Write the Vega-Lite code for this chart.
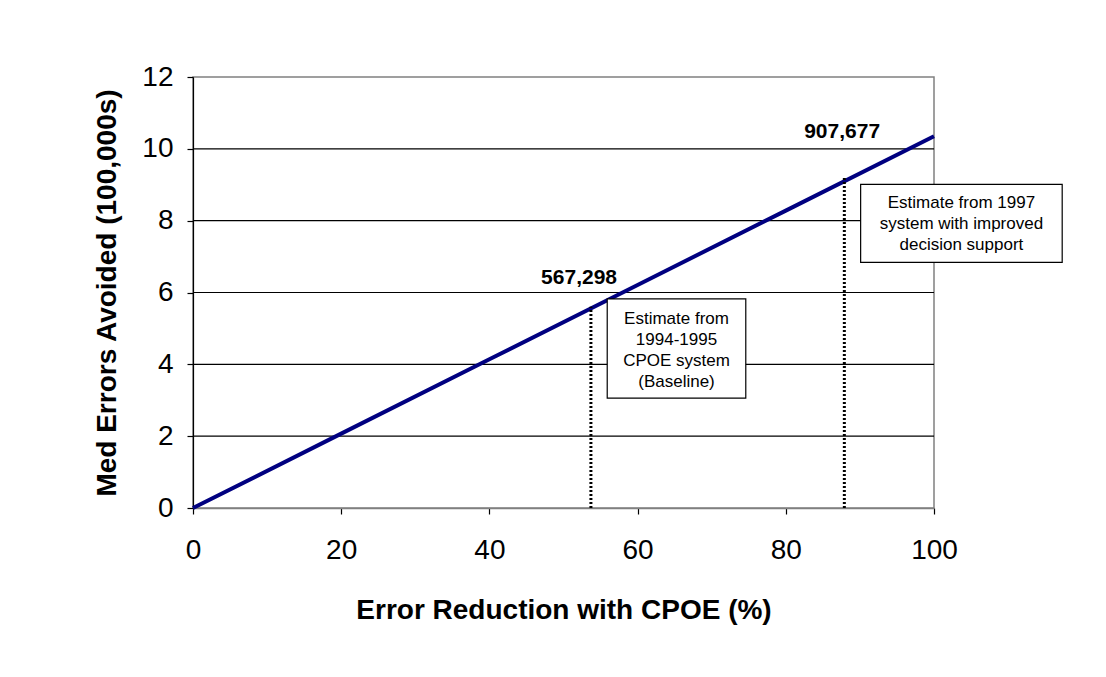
{
  "$schema": "https://vega.github.io/schema/vega-lite/v6.json",
  "width": 741,
  "height": 431,
  "autosize": {"type": "none"},
  "padding": {"left": 193, "top": 77, "right": 172, "bottom": 169},
  "background": "white",
  "config": {
    "font": "Liberation Sans",
    "view": {"stroke": "#808080", "strokeWidth": 1.5}
  },
  "datasets": {
    "curve": [
      {"reduction": 0, "errors": 0},
      {"reduction": 20, "errors": 2.07},
      {"reduction": 40, "errors": 4.14},
      {"reduction": 60, "errors": 6.21},
      {"reduction": 80, "errors": 8.28},
      {"reduction": 100, "errors": 10.35}
    ],
    "gridlines": [
      {"level": 2}, {"level": 4}, {"level": 6}, {"level": 8}, {"level": 10}
    ],
    "estimates": [
      {"reduction": 53.7, "base": 0, "errors": 5.6, "label": "567,298", "labelX": 52.1, "labelY": 6.4},
      {"reduction": 87.9, "base": 0, "errors": 9.2, "label": "907,677", "labelX": 87.6, "labelY": 10.46}
    ],
    "notes": [
      {"left": 55.9, "right": 74.6, "top": 5.82, "bottom": 3.06, "cx": 65.25, "cy": 5.27, "lines": ["Estimate from", "1994-1995", "CPOE system", "(Baseline)"]},
      {"left": 90.1, "right": 117.3, "top": 9.01, "bottom": 6.84, "cx": 103.7, "cy": 8.49, "lines": ["Estimate from 1997", "system with improved", "decision support"]}
    ]
  },
  "layer": [
    {
      "data": {"name": "gridlines"},
      "mark": {"type": "rule", "color": "black", "strokeWidth": 1.2},
      "encoding": {
        "y": {"field": "level", "type": "quantitative"}
      }
    },
    {
      "data": {"name": "curve"},
      "mark": {"type": "line", "color": "#000080", "strokeWidth": 4},
      "encoding": {
        "x": {
          "field": "reduction", "type": "quantitative",
          "scale": {"domain": [0, 100], "nice": false},
          "axis": {
            "values": [0, 20, 40, 60, 80, 100],
            "title": "Error Reduction with CPOE (%)",
            "titleFont": "Liberation Sans", "titleFontSize": 28, "titleFontWeight": "bold", "titleColor": "black",
            "titlePadding": 32,
            "labelFont": "Liberation Sans", "labelFontSize": 28, "labelColor": "black", "labelPadding": 22,
            "labelFlush": false,
            "grid": false,
            "domainColor": "#808080", "domainWidth": 1.5,
            "tickColor": "black", "tickSize": 6, "tickWidth": 1.2
          }
        },
        "y": {
          "field": "errors", "type": "quantitative",
          "scale": {"domain": [0, 12], "nice": false},
          "axis": {
            "values": [0, 2, 4, 6, 8, 10, 12],
            "title": "Med Errors Avoided (100,000s)",
            "titleFont": "Liberation Sans", "titleFontSize": 28, "titleFontWeight": "bold", "titleColor": "black",
            "titlePadding": 20,
            "labelFont": "Liberation Sans", "labelFontSize": 28, "labelColor": "black", "labelPadding": 14,
            "labelFlush": false,
            "grid": false,
            "domainColor": "black", "domainWidth": 1.2,
            "tickColor": "black", "tickSize": 6, "tickWidth": 1.2
          }
        }
      }
    },
    {
      "data": {"name": "estimates"},
      "mark": {"type": "rule", "color": "black", "strokeWidth": 3, "strokeDash": [2, 2]},
      "encoding": {
        "x": {"field": "reduction", "type": "quantitative"},
        "y": {"field": "base", "type": "quantitative"},
        "y2": {"field": "errors"}
      }
    },
    {
      "data": {"name": "estimates"},
      "mark": {"type": "text", "font": "Liberation Sans", "fontSize": 21, "fontWeight": "bold", "color": "black", "align": "center", "baseline": "middle"},
      "encoding": {
        "x": {"field": "labelX", "type": "quantitative"},
        "y": {"field": "labelY", "type": "quantitative"},
        "text": {"field": "label", "type": "nominal"}
      }
    },
    {
      "data": {"name": "notes"},
      "mark": {"type": "rect", "fill": "white", "stroke": "black", "strokeWidth": 1.2},
      "encoding": {
        "x": {"field": "left", "type": "quantitative"},
        "x2": {"field": "right"},
        "y": {"field": "top", "type": "quantitative"},
        "y2": {"field": "bottom"}
      }
    },
    {
      "data": {"name": "notes"},
      "mark": {"type": "text", "font": "Liberation Sans", "fontSize": 17, "color": "black", "align": "center", "baseline": "middle", "lineHeight": 21},
      "encoding": {
        "x": {"field": "cx", "type": "quantitative"},
        "y": {"field": "cy", "type": "quantitative"},
        "text": {"field": "lines", "type": "nominal"}
      }
    }
  ]
}
